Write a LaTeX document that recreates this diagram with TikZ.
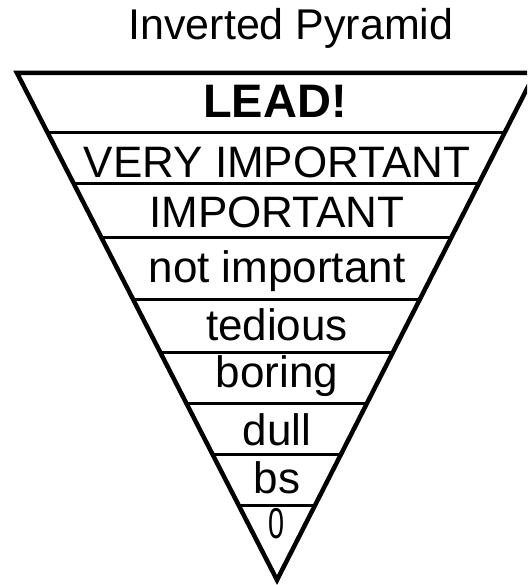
\documentclass[tikz,border=0pt]{standalone}
\usepackage{fontspec}
\setmainfont{Liberation Sans}
\usetikzlibrary{calc}
\newcommand{\band}[3]{\node[lbl] (#1) at (277,#2) {#3};}

\begin{document}
\begin{tikzpicture}[x=1pt,y=-1pt,
  rim/.style={line width=4.5pt,line join=miter},
  rule/.style={line width=3pt},
  lbl/.style={anchor=base,inner sep=0pt,font=\fontsize{44}{44}\selectfont}]
  \useasboundingbox (0,0) rectangle (527,585);
  \clip (0,0) rectangle (527,585);
  \coordinate (tl) at (17,73);
  \coordinate (tr) at (535,73);
  \coordinate (apex) at (277,580);
  \draw[rim] (tl) -- (tr) -- (apex) -- cycle;
  \foreach \t in {0.1183,0.2170,0.3254,0.4477,0.5503,0.6509,0.7515,0.8521}{
    \draw[rule] ($(tl)!\t!(apex)$) -- ($(tr)!\t!(apex)$);
  }
  \node[lbl,font=\fontsize{43}{43}\selectfont] (title) at (291,40) {Inverted Pyramid};
  \node[lbl,font=\fontsize{47}{47}\selectfont\bfseries] (lead) at (275,118) {LEAD!};
  \band{veryimp}{178}{VERY IMPORTANT}
  \band{imp}{227}{IMPORTANT}
  \band{notimp}{282}{not important}
  \band{tedious}{340}{tedious}
  \band{boring}{387}{boring}
  \band{dull}{445}{dull}
  \band{bs}{493}{bs}
  \node[lbl,font=\fontsize{36}{36}\selectfont] (zero) at (277,538) {\scalebox{0.8}[1.2]{0}};
\end{tikzpicture}
\end{document}
